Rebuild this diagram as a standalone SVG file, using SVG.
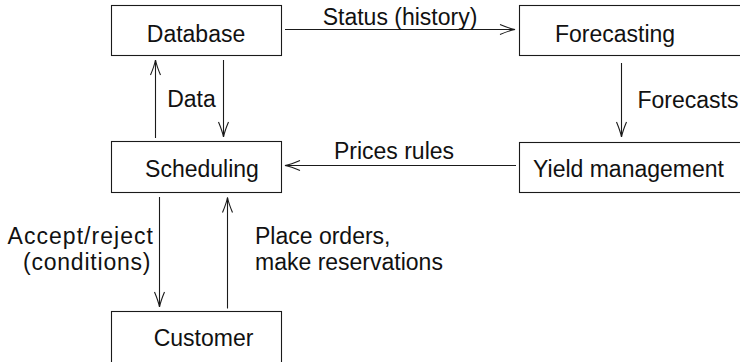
<svg xmlns="http://www.w3.org/2000/svg" width="740" height="362" viewBox="0 0 740 362">
  <defs>
    <style>
      .box { fill: #ffffff; stroke: #1a1a1a; stroke-width: 1.1; }
      .lbl { font-family: "Liberation Sans", Arial, sans-serif; font-size: 23px; fill: #111111; }
      .conn { stroke: #1a1a1a; stroke-width: 1.1; fill: none; marker-end: url(#ah); }
    </style>
    <marker id="ah" markerUnits="userSpaceOnUse" markerWidth="20" markerHeight="14" viewBox="-17 -7 20 14" refX="0" refY="0" orient="auto" overflow="visible">
      <path d="M-15,-5 Q-6,-1.2 0,0 Q-6,1.2 -15,5" fill="none" stroke="#1a1a1a" stroke-width="1.1"/>
    </marker>
  </defs>
  <rect width="740" height="362" fill="#ffffff"/>

  <g id="database">
    <rect class="box" x="111.5" y="5.5" width="170" height="50"/>
    <text class="lbl" x="196" y="41.5" text-anchor="middle">Database</text>
  </g>
  <g id="forecasting">
    <rect class="box" x="519.5" y="5.5" width="240" height="50"/>
    <text class="lbl" x="615" y="41.5" text-anchor="middle">Forecasting</text>
  </g>
  <g id="scheduling">
    <rect class="box" x="111.5" y="141.5" width="170" height="51"/>
    <text class="lbl" x="202" y="177" text-anchor="middle">Scheduling</text>
  </g>
  <g id="yield-management">
    <rect class="box" x="519.5" y="142.5" width="240" height="50"/>
    <text class="lbl" x="628.5" y="177" text-anchor="middle">Yield management</text>
  </g>
  <g id="customer">
    <rect class="box" x="111.5" y="311.5" width="170" height="60"/>
    <text class="lbl" x="203.5" y="346" text-anchor="middle">Customer</text>
  </g>

  <g id="connectors">
    <line class="conn" x1="285" y1="29.5" x2="515" y2="29.5"/>
    <text class="lbl" x="400" y="25" text-anchor="middle">Status (history)</text>

    <line class="conn" x1="155.5" y1="138" x2="155.5" y2="60"/>
    <line class="conn" x1="223.5" y1="60" x2="223.5" y2="137"/>
    <text class="lbl" x="191.5" y="107" text-anchor="middle">Data</text>

    <line class="conn" x1="621.5" y1="63" x2="621.5" y2="137"/>
    <text class="lbl" x="688" y="108" text-anchor="middle">Forecasts</text>

    <line class="conn" x1="516" y1="165.5" x2="285" y2="165.5"/>
    <text class="lbl" x="394" y="158.5" text-anchor="middle">Prices rules</text>

    <line class="conn" x1="159.5" y1="197" x2="159.5" y2="307"/>
    <text class="lbl" x="7.5" y="243.5" textLength="145.5">Accept/reject</text>
    <text class="lbl" x="23" y="269.5" textLength="127.5">(conditions)</text>

    <line class="conn" x1="227.5" y1="308.5" x2="227.5" y2="197.5"/>
    <text class="lbl" x="255" y="243.5">Place orders,</text>
    <text class="lbl" x="255" y="270">make reservations</text>
  </g>
</svg>
